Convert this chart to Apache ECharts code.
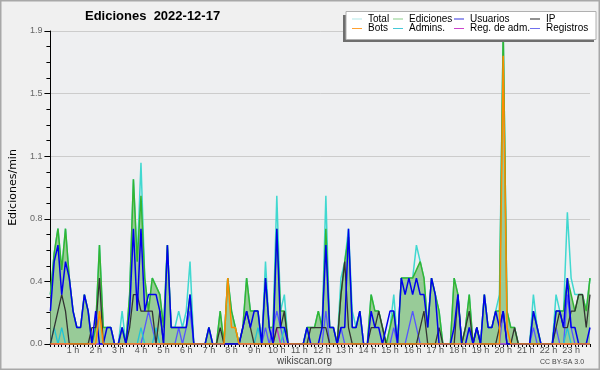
<!DOCTYPE html>
<html><head><meta charset="utf-8">
<script src="https://cdn.jsdelivr.net/npm/echarts@6/dist/echarts.min.js"></script>
<style>html,body{margin:0;padding:0;background:#f0f0f0;}#c{width:600px;height:370px;}</style>
</head><body><div id="c"></div>
<script>
// Categories: 10-minute bins over the day
const categories = [];
for (let h = 0; h < 24; h++) for (let m = 0; m < 6; m++) categories.push(h + ':' + m + '0');
const hourLabels = ['0 h','1 h','2 h','3 h','4 h','5 h','6 h','7 h','8 h','9 h','10 h','11 h','12 h','13 h','14 h','15 h','16 h','17 h','18 h','19 h','20 h','21 h','22 h','23 h'];
const yTicks = [0, 0.38, 0.76, 1.14, 1.52, 1.9];

const total = [
0.3,0.55,0.7,0.45,0.7,0.4, 0.2,0.1,0.1,0.3,0.2,0.0, 0.1,0.6,0.1,0.1,0.1,0.0, 0.0,0.2,0.0,0.3,1.0,0.5,
1.1,0.4,0.2,0.4,0.35,0.3, 0.1,0.6,0.1,0.1,0.2,0.1, 0.2,0.5,0.0,0.0,0.0,0.0, 0.1,0.0,0.0,0.2,0.0,0.4,
0.2,0.1,0.0,0.1,0.4,0.2, 0.2,0.2,0.0,0.5,0.1,0.1, 0.9,0.2,0.3,0.0,0.0,0.0, 0.0,0.0,0.1,0.1,0.1,0.2,
0.1,0.9,0.1,0.1,0.0,0.4, 0.5,0.7,0.2,0.1,0.2,0.0, 0.0,0.3,0.2,0.2,0.1,0.0, 0.1,0.3,0.0,0.4,0.4,0.4,
0.4,0.6,0.5,0.4,0.1,0.4, 0.3,0.2,0.0,0.0,0.0,0.4, 0.3,0.0,0.1,0.3,0.0,0.1, 0.0,0.3,0.1,0.1,0.2,0.3,
1.9,0.2,0.1,0.1,0.0,0.0, 0.0,0.0,0.3,0.1,0.0,0.0, 0.0,0.0,0.3,0.2,0.2,0.8, 0.4,0.3,0.3,0.3,0.2,0.4];

const ediciones = [
0.3,0.55,0.7,0.45,0.7,0.4, 0.2,0.1,0.1,0.3,0.2,0.0, 0.1,0.6,0.1,0.1,0.1,0.0, 0.0,0.1,0.0,0.3,1.0,0.5,
0.9,0.4,0.2,0.4,0.35,0.3, 0.1,0.6,0.1,0.1,0.1,0.1, 0.1,0.3,0.0,0.0,0.0,0.0, 0.1,0.0,0.0,0.2,0.0,0.4,
0.2,0.1,0.0,0.1,0.4,0.2, 0.2,0.2,0.0,0.4,0.1,0.1, 0.7,0.2,0.2,0.0,0.0,0.0, 0.0,0.0,0.1,0.1,0.1,0.2,
0.1,0.7,0.1,0.1,0.0,0.3, 0.5,0.65,0.1,0.1,0.2,0.0, 0.0,0.3,0.2,0.2,0.1,0.0, 0.1,0.2,0.0,0.4,0.4,0.4,
0.4,0.45,0.5,0.4,0.1,0.4, 0.3,0.2,0.0,0.0,0.0,0.4, 0.3,0.0,0.1,0.3,0.0,0.1, 0.0,0.3,0.1,0.1,0.2,0.2,
1.9,0.2,0.1,0.1,0.0,0.0, 0.0,0.0,0.2,0.1,0.0,0.0, 0.0,0.0,0.2,0.2,0.2,0.4, 0.3,0.2,0.3,0.3,0.2,0.4];

const usuarios = [
0.2,0.5,0.6,0.3,0.5,0.4, 0.2,0.1,0.1,0.3,0.2,0.0, 0.2,0.0,0.0,0.1,0.1,0.0, 0.0,0.1,0.0,0.2,0.7,0.2,
0.7,0.2,0.3,0.3,0.3,0.2, 0.0,0.6,0.1,0.1,0.1,0.1, 0.1,0.3,0.0,0.0,0.0,0.0, 0.1,0.0,0.0,0.0,0.0,0.0,
0.0,0.0,0.0,0.1,0.2,0.1, 0.2,0.2,0.0,0.4,0.1,0.0, 0.7,0.1,0.1,0.0,0.0,0.0, 0.0,0.0,0.1,0.0,0.0,0.0,
0.1,0.6,0.1,0.1,0.0,0.1, 0.1,0.7,0.1,0.1,0.2,0.0, 0.0,0.2,0.1,0.1,0.0,0.1, 0.2,0.2,0.0,0.4,0.3,0.4,
0.3,0.4,0.3,0.3,0.1,0.4, 0.3,0.0,0.0,0.0,0.0,0.1, 0.3,0.0,0.0,0.1,0.0,0.1, 0.0,0.3,0.1,0.1,0.2,0.1,
0.2,0.0,0.0,0.0,0.0,0.0, 0.0,0.0,0.2,0.1,0.0,0.0, 0.0,0.0,0.2,0.2,0.1,0.4, 0.1,0.1,0.0,0.0,0.0,0.1];

const ip = [
0.0,0.1,0.2,0.3,0.2,0.0, 0.0,0.0,0.0,0.0,0.0,0.1, 0.1,0.4,0.0,0.0,0.0,0.0, 0.0,0.0,0.0,0.1,0.3,0.3,
0.2,0.2,0.2,0.2,0.0,0.2, 0.0,0.0,0.0,0.0,0.0,0.0, 0.0,0.0,0.0,0.0,0.0,0.0, 0.0,0.0,0.0,0.1,0.0,0.0,
0.0,0.0,0.0,0.1,0.2,0.1, 0.0,0.0,0.0,0.0,0.0,0.0, 0.1,0.1,0.2,0.0,0.0,0.0, 0.0,0.0,0.0,0.1,0.1,0.1,
0.1,0.1,0.0,0.0,0.0,0.3, 0.5,0.1,0.0,0.0,0.0,0.0, 0.0,0.1,0.1,0.2,0.1,0.0, 0.0,0.0,0.0,0.0,0.0,0.0,
0.0,0.0,0.1,0.2,0.0,0.0, 0.0,0.1,0.0,0.0,0.0,0.0, 0.3,0.0,0.1,0.2,0.0,0.1, 0.0,0.0,0.0,0.0,0.0,0.1,
0.2,0.0,0.0,0.1,0.0,0.0, 0.0,0.0,0.0,0.0,0.0,0.0, 0.0,0.0,0.1,0.2,0.1,0.1, 0.2,0.2,0.3,0.3,0.1,0.3];

const bots = [
0,0,0,0,0,0, 0,0,0,0,0,0, 0,0.2,0,0,0,0, 0,0,0,0,0,0,
0,0,0,0,0,0, 0,0,0,0,0,0, 0,0,0,0,0,0, 0,0,0,0,0,0.4,
0.1,0.1,0,0,0,0, 0,0,0,0,0,0, 0,0,0,0,0,0, 0,0,0,0,0,0,
0,0,0,0,0,0, 0,0,0,0,0,0, 0,0,0,0,0,0, 0,0,0,0,0,0,
0,0,0,0,0,0, 0,0,0,0,0,0, 0,0,0,0,0,0, 0,0,0,0,0,0,
1.75,0.1,0,0,0,0, 0,0,0,0,0,0, 0,0,0,0,0,0, 0,0,0,0,0,0];

const admins = [
0,0.1,0,0.1,0,0, 0,0,0,0,0,0, 0,0,0,0,0,0, 0,0,0,0,0,0,
0.1,0,0,0,0.1,0, 0,0,0,0,0,0, 0,0,0,0,0,0, 0,0,0,0,0,0,
0,0,0,0,0,0, 0,0.1,0,0,0,0, 0,0,0.1,0,0,0, 0,0,0,0,0,0,
0,0,0,0,0,0, 0,0,0,0,0,0, 0,0,0,0,0,0, 0,0,0,0,0,0,
0,0,0,0,0,0, 0,0,0,0,0,0, 0,0,0,0,0,0, 0,0,0,0,0,0,
0,0,0,0,0,0, 0,0,0,0,0,0, 0,0,0,0,0,0.1, 0,0,0,0,0,0];

const regAdm = [
0,0,0,0,0,0, 0,0,0,0,0,0, 0,0,0,0,0,0, 0,0,0,0,0,0,
0,0,0,0,0,0, 0,0,0,0,0,0, 0,0,0,0,0,0, 0,0,0,0,0,0,
0,0,0,0,0,0, 0,0,0,0,0,0, 0.1,0,0,0,0,0, 0,0,0,0,0,0,
0,0,0,0,0,0, 0,0,0,0,0,0, 0,0,0,0,0,0, 0,0,0,0,0,0,
0,0,0,0,0,0, 0,0,0,0,0,0, 0,0,0,0,0,0, 0,0,0,0,0,0,
0,0,0,0,0,0, 0,0,0,0,0,0, 0,0,0,0,0,0, 0,0,0,0,0,0];

const registros = [
0,0,0,0,0,0, 0,0,0,0,0,0, 0,0,0,0,0,0, 0,0,0,0,0,0,
0,0.1,0.2,0.1,0,0, 0,0,0,0,0.1,0, 0.1,0.2,0,0,0,0, 0,0,0,0,0,0,
0,0,0,0,0,0, 0,0,0,0.1,0,0.1, 0.2,0.1,0,0,0,0, 0,0,0,0,0,0,
0,0.2,0,0,0,0.1, 0,0,0,0,0,0, 0,0,0,0,0,0, 0,0.1,0,0,0,0.1,
0.2,0.1,0,0,0,0, 0,0,0,0,0,0, 0,0,0,0,0,0, 0,0,0,0,0,0,
0.2,0,0,0,0,0, 0,0,0.1,0,0,0, 0,0,0.1,0,0,0.3, 0.1,0,0,0,0,0];

const legendDefs = [
  ['Total', 352, 14, '#b0e6e6'], ['Ediciones', 393, 14, '#88cc88'], ['Usuarios', 454, 14, '#3333dd'], ['IP', 530, 14, '#222222'],
  ['Bots', 352, 23.5, '#ffa030'], ['Admins.', 393, 23.5, '#44c8d8'], ['Reg. de adm.', 454, 23.5, '#cc44cc'], ['Registros', 530, 23.5, '#7070ee']
];

const chart = echarts.init(document.getElementById('c'), null, {renderer: 'canvas'});
const lineS = (name, data, color, width, z) => ({
  name, type: 'line', data, symbol: 'none', z: z, animation: false,
  lineStyle: {color, width}, itemStyle: {color}
});

const series = [
  lineS('Total', total, '#40d8d0', 1.5, 2),
  Object.assign(lineS('Ediciones', ediciones, '#33b533', 1.5, 3), {areaStyle: {color: '#98cb98', opacity: 1}}),
  lineS('Registros', registros, '#5555ff', 1.3, 4),
  lineS('Admins.', admins, '#22c4d4', 1.3, 4),
  lineS('Reg. de adm.', regAdm, '#cc33cc', 1.3, 4),
  lineS('IP', ip, '#333333', 1.3, 5),
  lineS('Usuarios', usuarios, '#0000ee', 1.5, 6),
  lineS('Bots', bots, '#ff8c00', 1.5, 7)
];

const legends = legendDefs.map(d => ({
  left: d[1], top: d[2], padding: 0, itemWidth: 10, itemHeight: 1, itemGap: 0,
  icon: 'rect', selectedMode: false, orient: 'horizontal', z: 20,
  textStyle: {fontSize: 10, color: '#000', fontFamily: 'Liberation Sans, Arial, sans-serif', padding: [0,0,0,1]},
  data: [{name: d[0], itemStyle: {color: d[3]}}]
}));

chart.setOption({
  backgroundColor: '#f0f0f0',
  animation: false,
  title: {text: 'Ediciones  2022-12-17', left: 85, top: 10, padding: 0,
    textStyle: {fontSize: 13, fontWeight: 'bold', color: '#000', fontFamily: 'Liberation Sans, Arial, sans-serif'}},
  legend: legends,
  grid: {left: 46, right: 10, top: 31, height: 313, show: true, backgroundColor: '#eeeff1', borderWidth: 0},
  xAxis: {
    type: 'category', data: categories, boundaryGap: false,
    axisLine: {lineStyle: {color: '#000', width: 1}},
    axisTick: {show: true, interval: 0, length: 3, lineStyle: {color: '#000'}},
    axisLabel: {
      interval: (i) => i % 6 === 0 && i > 0,
      formatter: (v) => hourLabels[parseInt(v, 10)],
      fontSize: 9, color: '#555', margin: 2, fontFamily: 'Liberation Sans, Arial, sans-serif'
    },
    splitLine: {show: false}
  },
  yAxis: {
    type: 'value', min: 0, max: 1.9, interval: 0.38,
    name: 'Ediciones/min', nameLocation: 'middle', nameGap: 30, nameRotate: 90,
    nameTextStyle: {fontSize: 11, color: '#000', fontFamily: 'DejaVu Sans, sans-serif'},
    axisLine: {show: true, lineStyle: {color: '#000', width: 1}},
    axisTick: {show: true, length: 6, lineStyle: {color: '#000'}},
    minorTick: {show: true, splitNumber: 4, length: 4, lineStyle: {color: '#000'}},
    axisLabel: {formatter: (v) => v.toFixed(1), fontSize: 9, color: '#666', margin: 8,
      fontFamily: 'Liberation Sans, Arial, sans-serif'},
    splitLine: {show: true, lineStyle: {color: '#cccccc', width: 1}}
  },
  series: series,
  graphic: [
    {type: 'rect', shape: {x: 343, y: 15, width: 251, height: 27}, style: {fill: '#6e6e6e'}, z: 10},
    {type: 'rect', shape: {x: 346, y: 11.5, width: 250, height: 28}, style: {fill: '#ffffff', stroke: '#b0b0b0', lineWidth: 1}, z: 11},
    {type: 'text', left: 277, top: 356, style: {text: 'wikiscan.org', fontSize: 10, fill: '#444', fontFamily: 'Liberation Sans, Arial, sans-serif'}, z: 20},
    {type: 'text', left: 540, top: 359, style: {text: 'CC BY-SA 3.0', fontSize: 7, fill: '#444', fontFamily: 'Liberation Sans, Arial, sans-serif'}, z: 20},
    {type: 'rect', shape: {x: 0.5, y: 0.5, width: 599, height: 369}, style: {fill: 'none', stroke: '#a8a8a8', lineWidth: 2}, z: 30}
  ]
});
</script></body></html>
